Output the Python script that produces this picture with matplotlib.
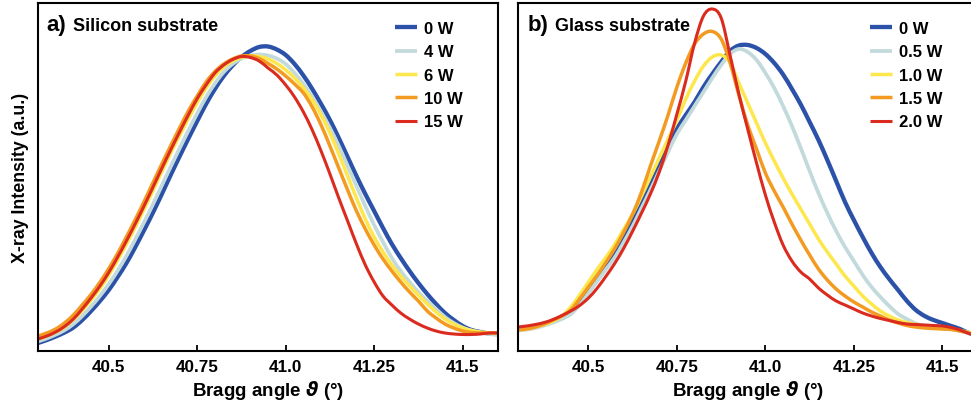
import numpy as np
import matplotlib
matplotlib.use("Agg")
import matplotlib.pyplot as plt
from matplotlib.path import Path
from matplotlib.patches import PathPatch
from matplotlib.lines import Line2D

plt.rcParams['font.family'] = ['Liberation Sans', 'DejaVu Sans']
plt.rcParams['font.weight'] = 'bold'
plt.rcParams['mathtext.fontset'] = 'custom'
plt.rcParams['mathtext.it'] = 'DejaVu Sans:italic:bold'
plt.rcParams['mathtext.rm'] = 'DejaVu Sans:bold'

# Bragg angle sampling grid (degrees)
angle = np.linspace(40.3, 41.6, 53)

# ---- a) Silicon substrate (intensity, arbitrary units) ----
si_labels = ['0 W', '4 W', '6 W', '10 W', '15 W']
si_0W = [8, 11, 14.5, 18.5, 23.5, 31, 40, 50, 61, 74, 88, 104, 121, 138.5, 157, 176, 194.5, 212.5, 230, 247,
         262, 275, 285.5, 294, 300, 304, 304.5, 301.5, 296, 287, 275.5, 262, 247, 231, 213, 194, 175, 157, 140,
         123, 107, 93, 80, 68, 57, 47, 38, 31, 25, 21, 19, 17.5, 17]
si_4W = [9.5, 12.6, 16.3, 20.8, 26.9, 35, 44.5, 55, 66.9, 80.3, 95.2, 111.7, 128.9, 146.8, 165.6, 184.3, 202.6,
         220.4, 237.7, 253.8, 267.5, 279, 287, 292.5, 295.5, 296.5, 295.5, 292.5, 287, 278, 267, 254, 239, 223,
         205, 185, 165, 145, 126, 109, 93, 80, 69, 59, 50, 42, 34, 28, 23.5, 20.5, 18.5, 17, 16]
si_6W = [12, 15, 19, 24, 31.5, 40.5, 51, 62.5, 76, 91, 107, 124, 142, 160.5, 179.5, 198, 215.5, 232.5, 248.5,
         263, 275, 284, 290, 293.5, 295, 294.5, 292, 287.5, 281, 273, 263, 251, 236, 218, 197, 175, 153, 132,
         114, 99, 86, 75, 65, 56, 47, 39, 32, 27, 23, 20.5, 19, 18, 17.5]
si_10W = [15, 18, 22, 28, 36, 46, 56.6, 68.8, 82.4, 97.6, 114.2, 131.5, 149.6, 168.4, 187.1, 205.3, 223, 240.2,
          255, 269, 279.5, 287, 292, 295, 295, 292.5, 287.5, 282, 275, 267, 258, 244, 226, 205, 183, 161, 140,
          122, 106, 92, 80, 69, 59, 50, 40, 33, 27, 23, 20, 18.5, 18, 18, 18]
si_15W = [12, 15, 19, 24.5, 32, 42, 53, 65, 78.5, 93.8, 110.1, 127.3, 145.2, 163.8, 182.7, 201, 218.8, 236.1,
          252.4, 266, 278, 286, 291.5, 294.5, 293.5, 290, 283, 276, 266, 254, 239, 221, 200, 177, 153, 130, 107,
          86, 69, 55, 46, 38, 32, 27, 23, 20, 18, 17, 16.5, 16.5, 17, 18, 18]

# ---- b) Glass substrate ----
gl_labels = ['0 W', '0.5 W', '1.0 W', '1.5 W', '2.0 W']
gl_0W = [22, 23, 24.5, 27, 30, 33, 38, 48, 60, 72, 84, 97, 113, 130, 148, 166, 185, 204, 222, 236, 249, 264,
         277, 289, 300, 305.5, 306, 303, 297, 288, 276.5, 262, 246.5, 229, 211, 191, 170, 149, 131, 114, 98, 84,
         72, 61, 50, 41, 35, 31, 28, 25, 22, 18, 16]
gl_05W = [20.5, 21.5, 23, 25.5, 28.5, 32, 37, 46, 58, 70, 82, 94, 109, 125, 143, 161, 180, 199, 217, 231, 245,
          259, 273, 286, 297, 302, 299, 291, 278, 263, 245, 225, 203, 180, 158, 138, 120, 104, 90, 76, 64, 54,
          45, 37, 32, 27.5, 25, 23.5, 22.5, 22, 20, 18, 16]
gl_10W = [21, 22, 24, 26.5, 30, 35, 44, 56, 69, 82, 94, 107, 122, 137, 155, 174, 193, 212, 231, 252, 270, 285,
          294, 296, 288.5, 268, 248, 228, 208, 190, 173, 157, 142, 127, 112, 99, 87, 75, 65, 55, 47, 40, 35, 31,
          28.5, 26.5, 25, 24, 23, 22, 20.5, 18.5, 16.5]
gl_15W = [21, 22, 24, 27, 31, 35, 41, 52, 64, 76, 89, 103, 119, 137, 159, 185, 210, 236, 264, 288, 307, 317,
          319.5, 312, 288.5, 256, 226, 202, 178, 160, 144, 127, 111, 96, 82, 71, 62, 55, 49, 44, 39, 35, 31, 28,
          25.5, 24, 23, 22.5, 22, 21.5, 20, 18, 16]
gl_20W = [24, 25, 26.5, 28.5, 31.5, 35.5, 40, 45.5, 53, 63, 75, 88, 103, 120, 138, 157, 179, 206, 237, 270, 308,
          335, 342, 333, 296, 257, 222, 188, 156, 129, 106, 90, 79, 72, 63, 56, 50, 46, 42, 38, 35, 32.5, 30.5,
          28.5, 27, 26.5, 26, 25.5, 25, 23.5, 21, 17.5, 15]

xticks = [40.5, 40.75, 41.0, 41.25, 41.5]
xticklabels = ['40.5', '40.75', '41.0', '41.25', '41.5']

colors = ['#2B52A8', '#C3DADC', '#FDE74C', '#F39A21', '#DB2B1F']
lws = [3.1, 2.7, 2.5, 2.5, 2.2]


def smooth_line(ax, x, y, color, lw):
    """Draw a smooth curve passing through every data point (cubic Bezier segments)."""
    P = np.column_stack([np.asarray(x, float), np.asarray(y, float)])
    n = len(P)
    verts = [P[0]]
    codes = [Path.MOVETO]
    for i in range(n - 1):
        p0 = P[i - 1] if i > 0 else P[i]
        p1 = P[i]
        p2 = P[i + 1]
        p3 = P[i + 2] if i + 2 < n else P[i + 1]
        verts += [p1 + (p2 - p0) / 6.0, p2 - (p3 - p1) / 6.0, p2]
        codes += [Path.CURVE4] * 3
    patch = PathPatch(Path(verts, codes), facecolor='none', edgecolor=color, lw=lw,
                      capstyle='round', joinstyle='round')
    ax.add_patch(patch)


W, H = 971, 406
fig = plt.figure(figsize=(W / 100, H / 100), dpi=100)
fig.patch.set_facecolor('white')
axL = fig.add_axes([38 / W, (H - 352) / H, 460 / W, 348 / H])
axR = fig.add_axes([517.7 / W, (H - 352) / H, 460 / W, 348 / H])

panels = [
    (axL, [si_0W, si_4W, si_6W, si_10W, si_15W], si_labels, 'a)', 'Silicon substrate', 0.019, 0.0754, 0.776),
    (axR, [gl_0W, gl_05W, gl_10W, gl_15W, gl_20W], gl_labels, 'b)', 'Glass substrate', 0.0224, 0.081, 0.766),
]

for ax, series, labels, letter, title, lx, tx, legx in panels:
    handles = []
    for vals, lab, c, lw in zip(series, labels, colors, lws):
        smooth_line(ax, angle, vals, c, lw)
        handles.append(Line2D([], [], color=c, lw=lw, label=lab, solid_capstyle='butt'))
    ax.set_xlim(40.3, 41.6)
    ax.set_ylim(0, 348)
    ax.set_xticks(xticks)
    ax.set_xticklabels(xticklabels)
    ax.tick_params(axis='x', direction='in', length=4.5, width=1.3, pad=6, labelsize=12.3)
    ax.tick_params(axis='y', left=False, labelleft=False)
    for s in ax.spines.values():
        s.set_linewidth(1.5)
    ax.set_xlabel('Bragg angle $\\vartheta$ (°)', fontsize=13.5, fontweight='bold', labelpad=3)
    ax.text(lx, 0.922, letter, transform=ax.transAxes, fontsize=16, fontweight='bold', va='baseline', ha='left')
    ax.text(tx, 0.922, title, transform=ax.transAxes, fontsize=13, fontweight='bold', va='baseline', ha='left')
    ax.legend(handles=handles, loc='upper left', bbox_to_anchor=(legx, 0.948), frameon=False,
              borderaxespad=0, borderpad=0, handlelength=1.32, handletextpad=0.42, labelspacing=0.5,
              prop={'size': 12, 'weight': 'bold'})

axL.set_ylabel('X-ray Intensity (a.u.)', fontsize=12.8, fontweight='bold')
axL.yaxis.set_label_coords(-0.02, 0.5)

fig.savefig('out.png', dpi=100)
